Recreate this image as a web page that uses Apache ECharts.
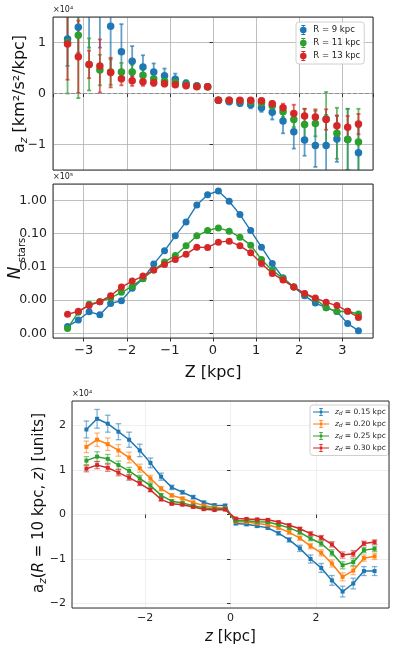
<!DOCTYPE html>
<html><head><meta charset="utf-8">
<script src="https://cdn.jsdelivr.net/npm/echarts@6/dist/echarts.min.js"></script>
<style>html,body{margin:0;padding:0;background:#fff}#c{width:400px;height:654px}</style>
</head><body><div id="c"></div>
<script>
// ---------- shared bins ----------
const zBins = [-3.375, -3.125, -2.875, -2.625, -2.375, -2.125, -1.875, -1.625, -1.375, -1.125, -0.875, -0.625, -0.375, -0.125,
               0.125, 0.375, 0.625, 0.875, 1.125, 1.375, 1.625, 1.875, 2.125, 2.375, 2.625, 2.875, 3.125, 3.375];

// ---------- panel 1: a_z (units of 1e4 km^2/s^2/kpc) ----------
const rLabels = ['R = 9 kpc', 'R = 11 kpc', 'R = 13 kpc'];
const azR9  = [1.07, 1.30, 2.00, 1.90, 1.32, 0.82, 0.63, 0.52, 0.42, 0.35, 0.28, 0.20, 0.15, 0.13, -0.13, -0.16, -0.19, -0.22, -0.28, -0.37, -0.54, -0.75, -0.91, -1.02, -1.02, -0.89, -0.90, -1.16];
const errR9 = [0.53, 0.50, 1.10, 1.00, 0.90, 0.54, 0.30, 0.23, 0.17, 0.14, 0.11, 0.06, 0.04, 0.03, 0.03, 0.04, 0.05, 0.07, 0.08, 0.14, 0.24, 0.33, 0.31, 0.42, 0.60, 0.45, 0.60, 0.50];
const azR11  = [1.00, 1.14, 0.57, 0.46, 0.42, 0.42, 0.42, 0.36, 0.29, 0.24, 0.22, 0.17, 0.14, 0.13, -0.13, -0.13, -0.14, -0.16, -0.18, -0.24, -0.36, -0.51, -0.61, -0.59, -0.50, -0.78, -0.90, -0.95];
const errR11 = [1.00, 1.23, 0.51, 0.30, 0.25, 0.18, 0.14, 0.11, 0.08, 0.06, 0.05, 0.04, 0.03, 0.02, 0.02, 0.03, 0.03, 0.04, 0.05, 0.07, 0.10, 0.15, 0.31, 0.25, 0.53, 0.50, 0.60, 0.65];
const azR13  = [0.97, 0.72, 0.57, 0.54, 0.41, 0.29, 0.25, 0.23, 0.21, 0.19, 0.17, 0.15, 0.13, 0.13, -0.13, -0.13, -0.13, -0.13, -0.14, -0.20, -0.28, -0.39, -0.44, -0.46, -0.51, -0.63, -0.66, -0.60];
const errR13 = [0.70, 0.71, 0.27, 0.52, 0.29, 0.13, 0.10, 0.08, 0.06, 0.05, 0.04, 0.03, 0.02, 0.02, 0.02, 0.02, 0.02, 0.03, 0.04, 0.05, 0.08, 0.17, 0.14, 0.15, 0.20, 0.20, 0.22, 0.20];

// ---------- panel 2: star counts ----------
const nR9  = [16, 25, 44, 36, 79, 95, 224, 437, 1202, 3020, 8511, 22387, 72444, 147911, 190546, 93325, 37154, 12303, 3890, 1259, 468, 245, 135, 81, 59, 45, 19.5, 12];
const nR11 = [14, 43, 74, 89, 115, 170, 257, 447, 794, 1380, 2188, 4266, 8511, 12303, 14791, 11749, 7762, 4467, 1660, 776, 447, 245, 155, 107, 59, 45, 46, 38];
const nR13 = [37, 46, 68, 89, 135, 245, 372, 525, 794, 1175, 1660, 2399, 3890, 3802, 5495, 5888, 4266, 2630, 1259, 631, 398, 245, 158, 115, 85, 68, 46, 30];

// ---------- panel 3: a_z(R=10 kpc, z) (units of 1e4) ----------
const zdLabels = ['0.15', '0.20', '0.25', '0.30'];
const az015 = [1.91, 2.15, 2.04, 1.86, 1.68, 1.44, 1.16, 0.85, 0.61, 0.50, 0.39, 0.27, 0.21, 0.20, -0.20, -0.22, -0.26, -0.30, -0.42, -0.57, -0.76, -1.00, -1.20, -1.48, -1.73, -1.55, -1.27, -1.27];
const err015 = [0.19, 0.21, 0.19, 0.18, 0.17, 0.14, 0.11, 0.08, 0.05, 0.04, 0.04, 0.03, 0.03, 0.03, 0.03, 0.03, 0.03, 0.03, 0.04, 0.05, 0.07, 0.09, 0.10, 0.11, 0.12, 0.12, 0.10, 0.10];
const az020 = [1.52, 1.68, 1.58, 1.44, 1.28, 1.04, 0.81, 0.58, 0.43, 0.36, 0.27, 0.20, 0.16, 0.14, -0.16, -0.17, -0.20, -0.23, -0.30, -0.40, -0.53, -0.71, -0.86, -1.10, -1.40, -1.26, -0.98, -0.94];
const err020 = [0.13, 0.15, 0.14, 0.13, 0.12, 0.09, 0.07, 0.05, 0.04, 0.03, 0.03, 0.02, 0.02, 0.02, 0.02, 0.02, 0.02, 0.03, 0.03, 0.04, 0.05, 0.06, 0.07, 0.08, 0.09, 0.09, 0.07, 0.07];
const az025 = [1.21, 1.30, 1.25, 1.11, 0.98, 0.81, 0.65, 0.43, 0.30, 0.26, 0.20, 0.15, 0.13, 0.13, -0.14, -0.14, -0.16, -0.17, -0.23, -0.30, -0.40, -0.54, -0.65, -0.86, -1.14, -1.07, -0.80, -0.77];
const err025 = [0.09, 0.11, 0.10, 0.09, 0.08, 0.07, 0.06, 0.04, 0.03, 0.02, 0.02, 0.02, 0.02, 0.02, 0.02, 0.02, 0.02, 0.02, 0.02, 0.03, 0.04, 0.05, 0.06, 0.07, 0.08, 0.08, 0.06, 0.06];
const az030 = [1.03, 1.11, 1.05, 0.94, 0.83, 0.70, 0.55, 0.34, 0.24, 0.22, 0.17, 0.12, 0.10, 0.11, -0.09, -0.10, -0.11, -0.12, -0.17, -0.24, -0.32, -0.43, -0.52, -0.67, -0.91, -0.88, -0.65, -0.62];
const err030 = [0.07, 0.08, 0.08, 0.07, 0.06, 0.05, 0.04, 0.03, 0.02, 0.02, 0.02, 0.02, 0.02, 0.02, 0.02, 0.02, 0.02, 0.02, 0.02, 0.03, 0.03, 0.04, 0.05, 0.06, 0.07, 0.07, 0.05, 0.05];

// ---------- styling ----------
const FONT = 'DejaVu Sans';
const C = {blue: '#1f77b4', orange: '#ff7f0e', green: '#2ca02c', red: '#d62728'};
const minus = v => String(v).replace('-', '\u2212');

function pairs(ys) { return zBins.map((x, i) => [x, ys[i]]); }
function triples(ys, es) { return zBins.map((x, i) => [x, ys[i], es[i]]); }

function errSeries(name, idx, ys, es, color, opts) {
  return {
    type: 'custom', name: name, xAxisIndex: idx, yAxisIndex: idx, clip: true, silent: true,
    dimensions: ['x', 'y', 'e'], encode: {x: 0, y: 1},
    data: triples(ys, es),
    renderItem: function (params, api) {
      const x = api.value(0), y = api.value(1), e = api.value(2);
      const lo = api.coord([x, y - e]), hi = api.coord([x, y + e]);
      const st = {stroke: color, lineWidth: opts.lw, opacity: opts.op};
      const h = opts.cap;
      return {type: 'group', children: [
        {type: 'line', shape: {x1: lo[0], y1: lo[1], x2: hi[0], y2: hi[1]}, style: st},
        {type: 'line', shape: {x1: lo[0] - h, y1: lo[1], x2: lo[0] + h, y2: lo[1]}, style: st},
        {type: 'line', shape: {x1: hi[0] - h, y1: hi[1], x2: hi[0] + h, y2: hi[1]}, style: st}
      ]};
    }
  };
}

const tickStyle = {show: true, length: 3.5, lineStyle: {color: '#333', width: 1}};
const gridLine = {show: true, lineStyle: {color: '#b0b0b0', width: 0.8}};
const faintGrid = {show: true, lineStyle: {color: '#ebebeb', width: 0.8}};
const lab = (size, extra) => Object.assign({color: '#222', fontFamily: FONT, fontSize: size, showMinLabel: false, showMaxLabel: false}, extra || {});

const p1Icon = 'path://M4.5,0h1v10h-1z M3,0h4v0.9h-4z M3,9.1h4v0.9h-4z M8.3,5a3.3,3.3 0 1,1 -6.6,0a3.3,3.3 0 1,1 6.6,0z';
const p3Icon = 'path://M0,4.3h20v1.4h-20z M9.4,0h1.2v10h-1.2z M7.6,0h4.8v1h-4.8z M7.6,9h4.8v1h-4.8z M8.4,3.4h3.2v3.2h-3.2z';

const series = [];
// Panel 1
[[azR9, errR9, C.blue, rLabels[0]], [azR11, errR11, C.green, rLabels[1]], [azR13, errR13, C.red, rLabels[2]]].forEach((s, k) => {
  series.push(errSeries('e1_' + k, 0, s[0], s[1], s[2], {lw: 1.8, op: 0.7, cap: 2}));
  const sc = {type: 'scatter', name: s[3], xAxisIndex: 0, yAxisIndex: 0, data: pairs(s[0]), symbol: 'circle', symbolSize: 7.5,
    itemStyle: {color: s[2], opacity: 1}, clip: true, silent: true};
  if (k === 0) {
    sc.markLine = {silent: true, symbol: 'none', label: {show: false}, lineStyle: {color: '#888', type: [4, 2], width: 0.9}, data: [{yAxis: 0}], animation: false};
  }
  series.push(sc);
});
// Panel 2
[[nR9, C.blue], [nR11, C.green], [nR13, C.red]].forEach((s, k) => {
  series.push({type: 'line', name: 'n' + k, xAxisIndex: 1, yAxisIndex: 1, data: pairs(s[0]), symbol: 'circle', symbolSize: 7,
    showSymbol: true, lineStyle: {color: s[1], width: 1.4}, itemStyle: {color: s[1]}, silent: true});
});
// Panel 3
const p3Names = zdLabels.map(v => 'zd' + v);
[[az015, err015, C.blue], [az020, err020, C.orange], [az025, err025, C.green], [az030, err030, C.red]].forEach((s, k) => {
  series.push({type: 'line', name: p3Names[k], xAxisIndex: 2, yAxisIndex: 2, data: pairs(s[0]), symbol: 'rect', symbolSize: 4,
    showSymbol: true, lineStyle: {color: s[2], width: 1.5}, itemStyle: {color: s[2]}, silent: true, z: 3});
  series.push(errSeries('e3_' + k, 2, s[0], s[1], s[2], {lw: 1.3, op: 0.55, cap: 2.8}));
});

const gridBase = {show: true, borderColor: '#333', borderWidth: 1, z: 5, backgroundColor: 'transparent', containLabel: false, outerBoundsMode: 'none'};

// rotated y-axis titles
function yTitle(cx, cy, text, rich, size, italic) {
  return {type: 'text', x: cx, y: cy, rotation: Math.PI / 2, silent: true,
    style: {text: text, fontFamily: FONT, fontSize: size, fontStyle: italic ? 'italic' : 'normal', fill: '#111',
            align: 'center', verticalAlign: 'middle', rich: rich}};
}

const option = {
  animation: false,
  backgroundColor: '#fff',
  textStyle: {fontFamily: FONT},
  grid: [
    Object.assign({left: 53, top: 17, width: 320, height: 153}, gridBase),
    Object.assign({left: 53, top: 184, width: 320, height: 154}, gridBase),
    Object.assign({left: 72, top: 401, width: 317, height: 207}, gridBase)
  ],
  xAxis: [
    {type: 'value', gridIndex: 0, min: -3.7125, max: 3.7125, splitNumber: 7, axisLine: {show: false}, axisTick: tickStyle,
     axisLabel: {show: false}, splitLine: gridLine},
    {type: 'value', gridIndex: 1, min: -3.7125, max: 3.7125, splitNumber: 7, axisLine: {show: false}, axisTick: tickStyle,
     axisLabel: lab(13, {formatter: minus, margin: 6}), splitLine: gridLine,
     name: 'Z [kpc]', nameLocation: 'middle', nameGap: 27, nameMoveOverlap: false,
     nameTextStyle: {fontFamily: FONT, fontSize: 16, color: '#111'}},
    {type: 'value', gridIndex: 2, min: -3.7125, max: 3.7125, splitNumber: 4, axisLine: {show: false}, axisTick: tickStyle,
     axisLabel: lab(11, {formatter: minus, margin: 5}), splitLine: faintGrid,
     name: '{i|z}{a| [kpc]}', nameLocation: 'middle', nameGap: 22, nameMoveOverlap: false,
     nameTextStyle: {fontFamily: FONT, fontSize: 15, color: '#111', rich: {i: {fontSize: 15, fontStyle: 'italic', fontFamily: FONT}, a: {fontSize: 15, fontFamily: FONT}}}}
  ],
  yAxis: [
    {type: 'value', gridIndex: 0, min: -1.5, max: 1.5, splitNumber: 3, axisLine: {show: false}, axisTick: tickStyle,
     axisLabel: lab(12.5, {formatter: minus, margin: 7}), splitLine: gridLine},
    {type: 'log', logBase: 10, gridIndex: 1, min: 7.2, max: 309000, splitNumber: 5, axisLine: {show: false}, axisTick: tickStyle,
     axisLabel: lab(12.5, {formatter: v => (v / 1e5).toFixed(2), margin: 6}), splitLine: gridLine},
    {type: 'value', gridIndex: 2, min: -2.1, max: 2.55, splitNumber: 5, axisLine: {show: false}, axisTick: tickStyle,
     axisLabel: lab(11, {formatter: minus, margin: 6}), splitLine: faintGrid}
  ],
  legend: [
    {data: rLabels, orient: 'vertical', left: 296, top: 22, padding: [3, 4, 3, 4], itemGap: 3, itemWidth: 10, itemHeight: 10,
     icon: p1Icon, backgroundColor: 'rgba(255,255,255,0.85)', borderColor: '#d0d0d0', borderWidth: 1, borderRadius: 3,
     textStyle: {fontFamily: FONT, fontSize: 8.5, color: '#222'}, selectedMode: false},
    {data: p3Names, orient: 'vertical', left: 310, top: 405, padding: [3, 3, 3, 3], itemGap: 3.5, itemWidth: 18, itemHeight: 8,
     icon: p3Icon, backgroundColor: 'rgba(255,255,255,0.85)', borderColor: '#d0d0d0', borderWidth: 1, borderRadius: 3,
     formatter: name => '{i|z}{s|d}{t| = ' + name.slice(2) + ' kpc}',
     textStyle: {fontFamily: FONT, fontSize: 7.5, color: '#222', rich: {
       i: {fontSize: 7.5, fontStyle: 'italic', fontFamily: FONT},
       s: {fontSize: 5.5, fontStyle: 'italic', fontFamily: FONT, verticalAlign: 'bottom', lineHeight: 9},
       t: {fontSize: 7.5, fontFamily: FONT}}}, selectedMode: false}
  ],
  graphic: [
    {type: 'text', left: 53, top: 6, style: {text: '×10⁴', fontFamily: FONT, fontSize: 8, fill: '#222'}},
    {type: 'text', left: 53, top: 173, style: {text: '×10⁵', fontFamily: FONT, fontSize: 8, fill: '#222'}},
    {type: 'text', left: 72, top: 390, style: {text: '×10⁴', fontFamily: FONT, fontSize: 8, fill: '#222'}},
    yTitle(20, 94, '{a|a}{s|z}{a| [km²/s²/kpc]}', {
      a: {fontSize: 16, fontFamily: FONT, lineHeight: 20, verticalAlign: 'middle'},
      s: {fontSize: 11, fontFamily: FONT, fontStyle: 'italic', lineHeight: 20, verticalAlign: 'bottom'}}, 16),
    yTitle(16, 273, 'N', null, 17, true),
    yTitle(22, 250, 'stars', null, 10, false),
    yTitle(39, 503, '{a|a}{s|z}{a|(}{i|R}{a| = 10 kpc, }{i|z}{a|) [units]}', {
      a: {fontSize: 15, fontFamily: FONT, lineHeight: 19, verticalAlign: 'middle'},
      i: {fontSize: 15, fontFamily: FONT, fontStyle: 'italic', lineHeight: 19, verticalAlign: 'middle'},
      s: {fontSize: 10.5, fontFamily: FONT, fontStyle: 'italic', lineHeight: 19, verticalAlign: 'bottom'}}, 15)
  ],
  series: series
};

const chart = echarts.init(document.getElementById('c'), null, {renderer: 'canvas'});
chart.setOption(option);
</script>
</body></html>
